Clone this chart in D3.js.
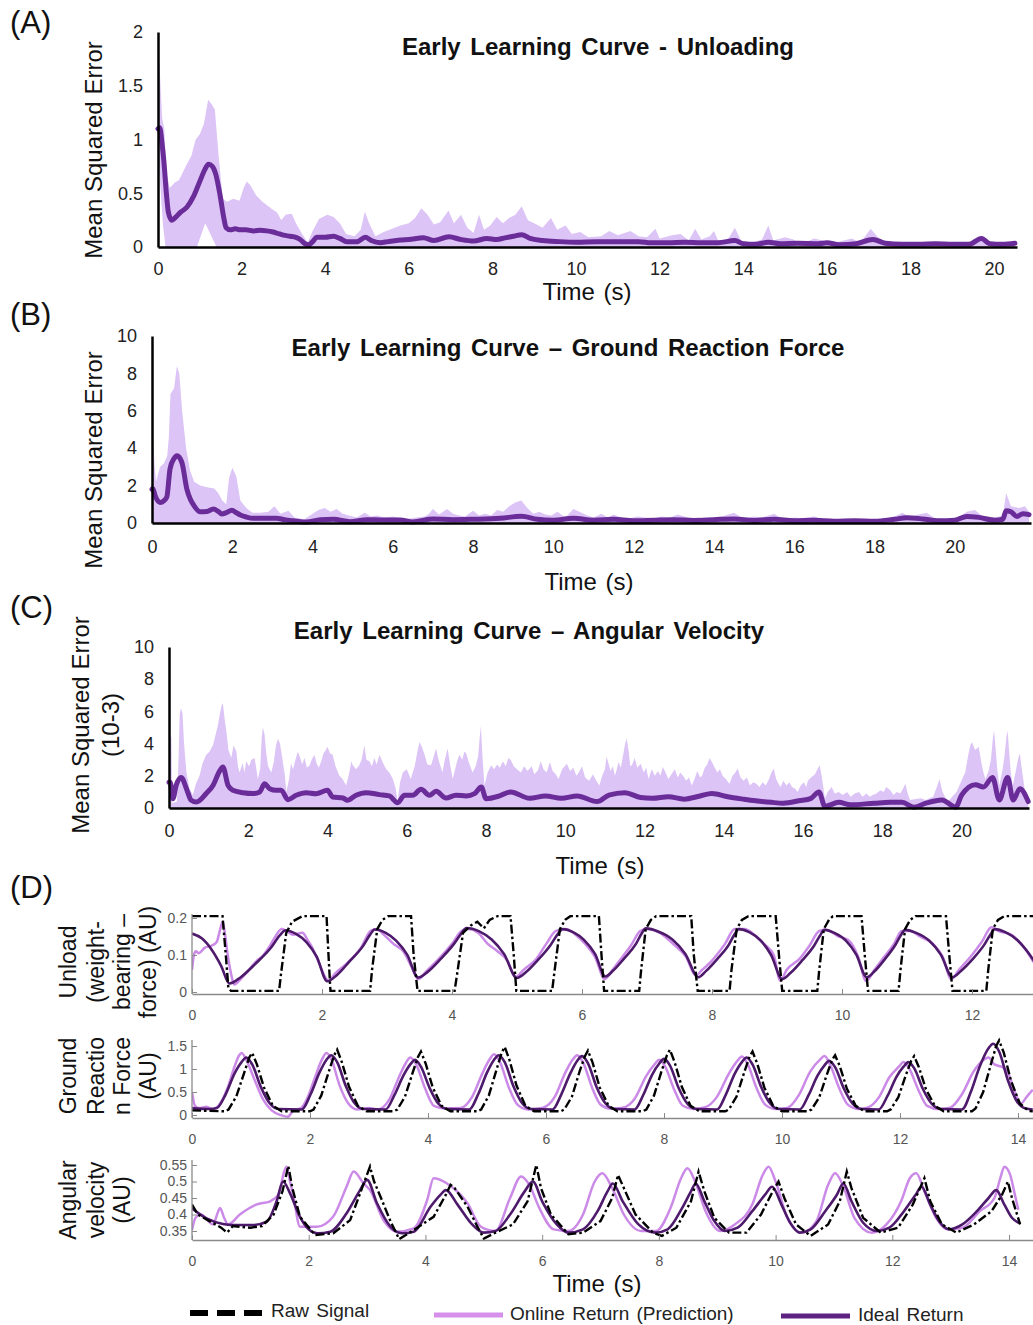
<!DOCTYPE html>
<html><head><meta charset="utf-8">
<script src="https://cdn.jsdelivr.net/npm/d3@7"></script>
<style>
body{margin:0;background:#fff}
svg{display:block}
text{font-family:"Liberation Sans",Arial,Helvetica,sans-serif}
</style>
</head><body>
<svg id="chart" width="1033" height="1325"></svg>
<script>
// ---------------- DATA ----------------
// Panel A : Unloading
const meanA = [[0,1.1],[0.04,1.11],[0.1,0.95],[0.14,0.8],[0.2,0.5],[0.25,0.32],[0.33,0.25],[0.43,0.28],[0.53,0.32],[0.69,0.37],[0.85,0.47],[1.01,0.62],[1.12,0.72],[1.21,0.77],[1.3,0.75],[1.38,0.68],[1.49,0.47],[1.57,0.28],[1.63,0.18],[1.73,0.16],[1.85,0.17],[1.97,0.16],[2.1,0.16],[2.29,0.15],[2.45,0.155],[2.6,0.15],[2.75,0.14],[2.84,0.13],[3.0,0.11],[3.16,0.1],[3.3,0.09],[3.4,0.07],[3.52,0.03],[3.6,0.02],[3.7,0.05],[3.8,0.09],[4.0,0.09],[4.2,0.1],[4.35,0.08],[4.52,0.05],[4.76,0.05],[4.96,0.09],[5.1,0.06],[5.32,0.04],[5.5,0.05],[5.8,0.065],[6.0,0.07],[6.35,0.085],[6.6,0.06],[6.96,0.095],[7.24,0.07],[7.55,0.055],[7.87,0.08],[8.1,0.07],[8.3,0.085],[8.5,0.1],[8.7,0.115],[8.9,0.08],[9.2,0.06],[9.6,0.05],[10,0.045],[10.5,0.05],[11,0.05],[11.5,0.05],[11.8,0.04],[12.2,0.04],[12.6,0.045],[13.0,0.04],[13.4,0.04],[13.8,0.06],[14.0,0.03],[14.3,0.025],[14.6,0.045],[14.9,0.03],[15.3,0.035],[15.8,0.03],[16.0,0.04],[16.3,0.02],[16.7,0.03],[17.1,0.07],[17.4,0.035],[17.8,0.025],[18.2,0.025],[18.6,0.03],[19.0,0.025],[19.4,0.025],[19.7,0.08],[19.9,0.03],[20.2,0.025],[20.5,0.035]];
const upperA = [[0,1.0],[0.02,1.85],[0.06,1.5],[0.1,1.2],[0.15,1.1],[0.2,0.7],[0.28,0.55],[0.4,0.6],[0.5,0.62],[0.6,0.7],[0.7,0.78],[0.8,0.85],[0.9,1.0],[1.0,1.05],[1.1,1.15],[1.2,1.37],[1.28,1.33],[1.36,1.28],[1.45,0.85],[1.55,0.45],[1.65,0.42],[1.8,0.45],[1.95,0.43],[2.05,0.55],[2.12,0.61],[2.2,0.58],[2.35,0.48],[2.5,0.42],[2.7,0.36],[2.85,0.32],[2.95,0.25],[3.05,0.3],[3.2,0.31],[3.3,0.22],[3.45,0.12],[3.58,0.04],[3.7,0.15],[3.85,0.26],[4.05,0.3],[4.2,0.28],[4.35,0.22],[4.5,0.12],[4.7,0.1],[4.85,0.16],[4.95,0.33],[5.05,0.22],[5.2,0.1],[5.4,0.14],[5.6,0.17],[5.8,0.2],[6.0,0.22],[6.15,0.27],[6.3,0.36],[6.45,0.3],[6.6,0.21],[6.75,0.23],[6.95,0.34],[7.08,0.22],[7.25,0.3],[7.4,0.18],[7.55,0.13],[7.68,0.3],[7.8,0.16],[7.95,0.2],[8.1,0.28],[8.25,0.22],[8.4,0.27],[8.55,0.3],[8.7,0.38],[8.85,0.25],[9.0,0.22],[9.2,0.18],[9.4,0.27],[9.55,0.16],[9.75,0.2],[9.9,0.12],[10.1,0.14],[10.3,0.09],[10.6,0.1],[10.8,0.15],[11.0,0.11],[11.3,0.15],[11.5,0.1],[11.7,0.09],[11.9,0.17],[12.0,0.08],[12.3,0.11],[12.5,0.12],[12.7,0.06],[12.85,0.17],[13.0,0.07],[13.2,0.1],[13.3,0.15],[13.4,0.06],[13.6,0.05],[13.8,0.18],[13.95,0.06],[14.2,0.04],[14.45,0.07],[14.6,0.2],[14.72,0.06],[15.0,0.09],[15.2,0.07],[15.4,0.03],[15.7,0.08],[15.9,0.06],[16.1,0.03],[16.4,0.06],[16.6,0.08],[16.8,0.04],[17.05,0.17],[17.2,0.1],[17.4,0.04],[17.7,0.03],[18.0,0.04],[18.5,0.03],[19.0,0.03],[19.5,0.04],[19.7,0.1],[19.85,0.04],[20.2,0.03],[20.5,0.04]];
const lowerA = [[0,0.9],[0.05,0.6],[0.12,0.2],[0.18,0],[0.93,0],[1.13,0.22],[1.4,0],[20.5,0]];

// Panel B : Ground Reaction Force
const meanB = [[0,1.8],[0.02,1.85],[0.08,1.45],[0.2,1.1],[0.3,1.2],[0.37,1.4],[0.45,2.9],[0.55,3.45],[0.62,3.6],[0.7,3.45],[0.75,3.2],[0.87,1.8],[0.95,1.3],[1.04,0.95],[1.2,0.6],[1.37,0.62],[1.53,0.75],[1.65,0.62],[1.74,0.48],[1.85,0.55],[1.99,0.68],[2.1,0.55],[2.2,0.43],[2.35,0.32],[2.53,0.25],[2.86,0.25],[3.1,0.26],[3.3,0.18],[3.52,0.12],[3.85,0.05],[4.19,0.18],[4.52,0.2],[4.93,0.07],[5.35,0.18],[5.76,0.16],[6.18,0.16],[6.5,0.06],[7.0,0.21],[7.5,0.18],[8.0,0.2],[8.67,0.25],[9.2,0.36],[9.6,0.2],[10.0,0.15],[10.5,0.25],[11.0,0.15],[11.5,0.2],[12.0,0.12],[12.5,0.15],[13.0,0.18],[13.5,0.14],[14.0,0.18],[14.5,0.22],[15.0,0.14],[15.5,0.2],[16.0,0.12],[16.5,0.15],[17.0,0.1],[17.5,0.12],[18.0,0.1],[18.5,0.2],[18.8,0.28],[19.2,0.22],[19.6,0.12],[20.0,0.15],[20.3,0.35],[20.6,0.3],[21.0,0.15],[21.2,0.2],[21.28,0.66],[21.4,0.6],[21.55,0.35],[21.7,0.5],[21.85,0.45]];
const upperB = [[0,4.9],[0.03,4.5],[0.06,3.2],[0.1,2.2],[0.2,3.0],[0.3,3.2],[0.38,3.6],[0.42,4.6],[0.46,6.9],[0.55,7.2],[0.62,8.4],[0.68,8.0],[0.75,6.0],[0.85,4.0],[0.95,2.8],[1.05,2.2],[1.2,2.0],[1.4,1.9],[1.55,1.85],[1.65,1.6],[1.75,1.2],[1.85,1.0],[1.92,2.4],[2.0,2.95],[2.1,2.5],[2.2,1.2],[2.35,0.8],[2.5,0.55],[2.7,0.55],[2.9,0.6],[3.05,0.9],[3.2,0.5],[3.4,0.65],[3.55,0.3],[3.8,0.2],[4.0,0.5],[4.15,0.7],[4.3,0.8],[4.45,0.6],[4.6,0.75],[4.75,0.5],[4.9,0.4],[5.1,0.3],[5.3,0.55],[5.45,0.35],[5.6,0.4],[5.8,0.3],[6.0,0.35],[6.3,0.2],[6.6,0.3],[6.8,0.35],[6.9,0.5],[7.0,0.75],[7.15,0.45],[7.35,0.75],[7.5,0.5],[7.65,0.4],[7.8,0.35],[8.0,0.65],[8.15,0.4],[8.3,0.5],[8.45,0.4],[8.6,0.7],[8.75,0.6],[8.9,0.9],[9.05,1.1],[9.2,1.2],[9.35,0.8],[9.5,0.5],[9.65,0.6],[9.8,0.45],[9.95,0.4],[10.1,0.6],[10.3,0.3],[10.5,0.75],[10.7,0.55],[10.85,0.4],[11.0,0.3],[11.2,0.5],[11.35,0.3],[11.5,0.45],[11.8,0.2],[12.1,0.35],[12.3,0.3],[12.5,0.25],[12.7,0.35],[12.9,0.3],[13.1,0.45],[13.4,0.25],[13.6,0.3],[13.8,0.2],[14.0,0.3],[14.2,0.35],[14.5,0.55],[14.65,0.35],[14.8,0.25],[15.0,0.35],[15.2,0.3],[15.5,0.5],[15.65,0.3],[15.8,0.2],[16.0,0.3],[16.2,0.25],[16.5,0.35],[16.8,0.15],[17.2,0.15],[17.5,0.2],[17.8,0.15],[18.2,0.2],[18.5,0.35],[18.7,0.55],[18.9,0.3],[19.1,0.45],[19.3,0.55],[19.5,0.25],[19.8,0.2],[20.1,0.3],[20.3,0.6],[20.5,0.7],[20.7,0.35],[21.0,0.3],[21.2,0.4],[21.28,1.6],[21.4,0.9],[21.6,0.8],[21.75,0.9],[21.85,0.6]];
const lowerB = [[0,0],[21.85,0]];

// Panel C : Angular Velocity (x10^-3)
const meanC = [[0,1.6],[0.03,1.6],[0.1,0.58],[0.18,1.4],[0.31,1.9],[0.44,1.2],[0.56,0.48],[0.69,0.37],[0.94,0.9],[1.11,1.4],[1.28,2.3],[1.36,2.55],[1.49,1.4],[1.61,1.1],[1.87,0.95],[2.12,0.9],[2.29,1.0],[2.41,1.5],[2.54,1.2],[2.71,1.1],[2.83,1.1],[3.0,0.52],[3.21,0.79],[3.46,0.95],[3.71,0.89],[4.0,1.1],[4.13,0.68],[4.39,0.62],[4.5,0.48],[4.72,0.79],[4.97,0.95],[5.31,0.83],[5.56,0.75],[5.77,0.33],[5.94,0.79],[6.15,0.79],[6.36,1.16],[6.57,0.79],[6.74,1.04],[6.99,0.62],[7.24,0.79],[7.5,0.75],[7.71,0.89],[7.88,1.3],[8.0,0.58],[8.34,0.75],[8.62,1.0],[9.1,0.6],[9.5,0.75],[9.9,0.6],[10.3,0.75],[10.8,0.4],[11.1,0.8],[11.5,0.95],[11.9,0.65],[12.2,0.6],[12.6,0.7],[13.0,0.55],[13.4,0.75],[13.7,0.9],[14.1,0.7],[14.5,0.55],[14.8,0.45],[15.2,0.35],[15.5,0.3],[15.9,0.45],[16.2,0.6],[16.4,1.0],[16.55,0.1],[16.9,0.35],[17.2,0.2],[17.8,0.3],[18.2,0.35],[18.5,0.35],[18.8,0.05],[19.1,0.3],[19.5,0.5],[19.85,0.05],[20.0,0.8],[20.35,1.45],[20.55,1.3],[20.78,1.9],[20.95,0.5],[21.16,1.9],[21.3,0.5],[21.47,1.2],[21.68,0.4]];
const upperC = [[0,2.5],[0.02,4.5],[0.06,4.4],[0.08,0.3],[0.2,0.4],[0.24,3.0],[0.27,5.8],[0.3,6.2],[0.34,5.9],[0.38,4.0],[0.44,2.2],[0.52,1.2],[0.6,0.8],[0.68,1.5],[0.77,2.0],[0.85,2.8],[0.94,3.3],[1.02,3.5],[1.11,3.9],[1.18,4.6],[1.24,5.2],[1.28,5.8],[1.33,6.4],[1.36,6.5],[1.4,5.6],[1.45,4.7],[1.5,3.6],[1.57,3.1],[1.63,3.9],[1.7,3.5],[1.74,2.6],[1.78,2.2],[1.86,2.8],[1.9,2.2],[1.95,2.9],[2.02,2.6],[2.08,3.0],[2.16,3.1],[2.2,2.5],[2.24,1.8],[2.3,2.4],[2.34,4.4],[2.37,5.0],[2.41,4.6],[2.45,3.5],[2.5,2.6],[2.58,2.2],[2.64,2.8],[2.7,3.9],[2.75,4.3],[2.8,4.0],[2.87,2.9],[2.92,2.1],[2.96,1.0],[3.03,1.8],[3.08,2.8],[3.13,2.4],[3.19,3.0],[3.25,3.5],[3.3,3.2],[3.36,2.7],[3.42,3.1],[3.48,2.5],[3.55,2.65],[3.6,3.0],[3.67,3.3],[3.72,2.8],[3.78,2.5],[3.84,2.9],[3.9,3.4],[3.96,3.6],[4.0,3.8],[4.06,3.4],[4.13,3.3],[4.2,2.6],[4.3,2.0],[4.38,1.8],[4.47,1.4],[4.55,2.2],[4.6,2.9],[4.64,2.65],[4.72,2.4],[4.8,2.65],[4.86,3.0],[4.93,3.9],[4.98,3.0],[5.06,2.9],[5.12,2.6],[5.18,3.1],[5.24,2.7],[5.31,3.3],[5.38,2.9],[5.48,2.4],[5.56,2.2],[5.65,1.8],[5.72,1.2],[5.77,0.4],[5.83,1.6],[5.9,2.2],[6.0,2.4],[6.1,1.8],[6.2,2.6],[6.26,3.4],[6.32,4.1],[6.38,3.8],[6.45,3.3],[6.52,2.7],[6.61,2.65],[6.68,3.2],[6.74,3.7],[6.8,3.0],[6.9,2.2],[6.96,3.0],[7.03,3.7],[7.1,2.6],[7.16,1.8],[7.22,2.4],[7.28,3.0],[7.33,3.3],[7.4,3.0],[7.45,3.5],[7.5,3.4],[7.57,2.8],[7.66,2.2],[7.74,2.6],[7.8,3.2],[7.84,4.4],[7.87,5.1],[7.91,3.2],[7.96,1.4],[8.04,2.2],[8.13,2.65],[8.2,2.4],[8.28,2.7],[8.35,2.5],[8.42,2.9],[8.5,2.6],[8.56,3.1],[8.62,3.0],[8.7,2.6],[8.78,2.4],[8.88,2.2],[8.96,2.6],[9.05,2.3],[9.15,2.6],[9.22,2.1],[9.31,2.35],[9.38,2.9],[9.45,2.4],[9.53,2.2],[9.61,2.85],[9.68,2.3],[9.76,2.1],[9.83,1.8],[9.92,2.4],[10.04,2.75],[10.12,2.3],[10.2,2.5],[10.28,2.0],[10.34,2.2],[10.42,2.6],[10.5,1.9],[10.6,1.7],[10.7,2.1],[10.78,1.7],[10.86,1.4],[10.93,2.0],[11.0,2.4],[11.04,3.2],[11.08,2.85],[11.14,2.3],[11.2,2.6],[11.25,2.0],[11.3,2.4],[11.34,2.85],[11.4,2.5],[11.46,3.3],[11.51,4.0],[11.55,4.3],[11.6,3.5],[11.64,2.6],[11.68,2.65],[11.75,3.1],[11.82,2.5],[11.9,2.75],[11.98,2.2],[12.04,2.5],[12.1,1.8],[12.18,2.4],[12.26,2.0],[12.34,2.3],[12.4,2.0],[12.46,2.55],[12.53,2.2],[12.6,1.8],[12.68,2.1],[12.76,2.4],[12.84,1.9],[12.9,2.2],[12.97,2.0],[13.05,1.7],[13.12,1.9],[13.19,1.4],[13.26,1.8],[13.33,2.3],[13.4,1.9],[13.45,2.0],[13.52,2.5],[13.58,2.7],[13.64,3.1],[13.7,2.85],[13.77,2.5],[13.84,2.2],[13.9,2.4],[13.97,2.0],[14.05,1.8],[14.14,1.5],[14.22,2.0],[14.29,2.2],[14.35,2.45],[14.42,1.9],[14.5,1.7],[14.58,1.9],[14.66,1.4],[14.74,1.6],[14.82,1.5],[14.9,1.3],[14.98,1.6],[15.06,1.4],[15.14,1.8],[15.2,2.2],[15.26,2.45],[15.32,1.8],[15.38,1.5],[15.43,1.3],[15.5,1.7],[15.58,1.4],[15.65,1.6],[15.72,1.3],[15.8,1.2],[15.86,1.0],[15.94,1.4],[16.02,1.6],[16.08,1.3],[16.12,1.7],[16.2,1.9],[16.3,2.1],[16.36,2.4],[16.42,2.65],[16.48,1.8],[16.55,0.6],[16.62,1.0],[16.72,1.3],[16.8,0.9],[16.9,1.0],[17.0,0.8],[17.11,1.0],[17.2,0.7],[17.3,0.9],[17.41,1.0],[17.5,0.7],[17.6,0.9],[17.68,0.7],[17.76,0.8],[17.85,0.9],[17.95,1.1],[18.03,1.0],[18.1,1.3],[18.2,1.1],[18.28,0.8],[18.36,1.0],[18.45,0.9],[18.52,1.2],[18.58,1.5],[18.64,0.9],[18.7,0.5],[18.8,0.55],[18.97,0.6],[19.1,0.5],[19.18,0.6],[19.28,0.7],[19.36,1.2],[19.44,1.8],[19.52,1.0],[19.6,0.6],[19.66,0.4],[19.76,0.7],[19.87,1.0],[19.98,1.6],[20.05,2.0],[20.09,2.2],[20.16,3.2],[20.22,3.9],[20.26,4.1],[20.34,3.6],[20.43,3.8],[20.5,2.8],[20.55,2.2],[20.6,1.8],[20.68,2.3],[20.74,3.0],[20.79,4.4],[20.82,4.8],[20.86,3.6],[20.9,2.4],[20.95,1.4],[21.02,2.2],[21.08,3.2],[21.13,4.4],[21.16,4.8],[21.2,3.5],[21.24,2.2],[21.29,1.4],[21.36,2.2],[21.42,3.0],[21.47,3.4],[21.52,2.4],[21.6,1.0],[21.68,0.6]];
const lowerC = [[0,0],[21.68,0]];

const mseTicksX = [0,2,4,6,8,10,12,14,16,18,20];
const mseTicksA = [0,0.5,1,1.5,2];
const mseTicksBC = [0,2,4,6,8,10];

// Panel D1 : Unload (weight-bearing force)
const d1Raw = [[0,0.205],[0.47,0.205],[0.52,0.1],[0.56,0.01],[0.6,0.003],[1.34,0.003],[1.37,0.05],[1.45,0.16],[1.54,0.19],[1.7,0.205],[2.07,0.205],[2.1,0.1],[2.13,0.003],[2.74,0.003],[2.77,0.06],[2.85,0.17],[2.93,0.195],[3.02,0.205],[3.37,0.205],[3.41,0.1],[3.47,0.003],[4.04,0.003],[4.08,0.05],[4.17,0.16],[4.29,0.18],[4.39,0.19],[4.49,0.172],[4.58,0.195],[4.7,0.205],[4.9,0.205],[4.95,0.1],[4.99,0.003],[5.54,0.003],[5.58,0.06],[5.66,0.17],[5.74,0.195],[5.82,0.205],[6.26,0.205],[6.3,0.1],[6.34,0.003],[6.88,0.003],[6.91,0.06],[6.98,0.17],[7.06,0.195],[7.14,0.205],[7.68,0.205],[7.72,0.1],[7.78,0.003],[8.27,0.003],[8.3,0.06],[8.38,0.17],[8.46,0.195],[8.56,0.205],[8.98,0.205],[9.03,0.1],[9.08,0.003],[9.62,0.003],[9.65,0.06],[9.72,0.17],[9.8,0.195],[9.86,0.205],[10.3,0.205],[10.35,0.1],[10.4,0.003],[10.87,0.003],[10.9,0.06],[10.97,0.17],[11.05,0.195],[11.13,0.205],[11.6,0.205],[11.65,0.1],[11.7,0.003],[12.22,0.003],[12.25,0.06],[12.32,0.17],[12.4,0.195],[12.5,0.205],[12.95,0.205]];
const d1Online = [[0,0.06],[0.03,0.1],[0.06,0.11],[0.1,0.105],[0.2,0.12],[0.3,0.125],[0.38,0.135],[0.42,0.16],[0.45,0.18],[0.47,0.19],[0.5,0.165],[0.55,0.1],[0.6,0.05],[0.65,0.02],[0.75,0.035],[0.9,0.065],[1.0,0.085],[1.1,0.1],[1.2,0.125],[1.3,0.155],[1.38,0.17],[1.45,0.165],[1.55,0.155],[1.7,0.16],[1.78,0.14],[1.85,0.12],[1.95,0.08],[2.05,0.04],[2.1,0.03],[2.2,0.05],[2.4,0.08],[2.6,0.12],[2.75,0.165],[2.85,0.17],[2.95,0.155],[3.1,0.13],[3.25,0.11],[3.4,0.06],[3.48,0.035],[3.6,0.055],[3.8,0.09],[4.0,0.13],[4.15,0.165],[4.25,0.17],[4.4,0.16],[4.55,0.13],[4.7,0.11],[4.85,0.085],[4.98,0.04],[5.1,0.06],[5.3,0.09],[5.45,0.13],[5.6,0.165],[5.75,0.17],[5.9,0.155],[6.05,0.13],[6.2,0.095],[6.35,0.035],[6.45,0.055],[6.6,0.09],[6.75,0.125],[6.9,0.165],[7.0,0.17],[7.2,0.16],[7.4,0.13],[7.6,0.095],[7.75,0.045],[7.85,0.06],[8.0,0.085],[8.2,0.13],[8.35,0.17],[8.5,0.17],[8.65,0.155],[8.8,0.13],[8.95,0.1],[9.05,0.03],[9.15,0.06],[9.35,0.09],[9.5,0.125],[9.65,0.165],[9.75,0.168],[9.95,0.15],[10.1,0.14],[10.25,0.095],[10.37,0.03],[10.5,0.06],[10.65,0.095],[10.8,0.13],[10.92,0.165],[11.05,0.165],[11.2,0.15],[11.4,0.13],[11.55,0.095],[11.68,0.035],[11.8,0.06],[12.0,0.1],[12.15,0.135],[12.3,0.175],[12.4,0.165],[12.6,0.155],[12.8,0.12],[12.95,0.08]];
const d1Ideal = [[0,0.158],[0.15,0.145],[0.3,0.115],[0.45,0.07],[0.575,0.023],[0.75,0.04],[0.98,0.077],[1.22,0.121],[1.35,0.153],[1.44,0.167],[1.6,0.157],[1.76,0.135],[1.92,0.095],[2.08,0.029],[2.23,0.046],[2.42,0.082],[2.63,0.124],[2.74,0.155],[2.81,0.169],[2.98,0.16],[3.14,0.139],[3.31,0.101],[3.48,0.039],[3.63,0.055],[3.83,0.09],[4.03,0.13],[4.15,0.16],[4.22,0.173],[4.42,0.164],[4.61,0.142],[4.8,0.103],[5.0,0.038],[5.14,0.054],[5.33,0.088],[5.52,0.128],[5.63,0.157],[5.7,0.17],[5.87,0.161],[6.03,0.141],[6.2,0.103],[6.36,0.042],[6.48,0.058],[6.65,0.091],[6.83,0.13],[6.92,0.159],[6.98,0.172],[7.18,0.163],[7.39,0.142],[7.59,0.103],[7.79,0.04],[7.91,0.057],[8.08,0.089],[8.26,0.128],[8.35,0.157],[8.41,0.17],[8.58,0.161],[8.75,0.139],[8.91,0.1],[9.08,0.035],[9.21,0.052],[9.39,0.086],[9.57,0.125],[9.67,0.155],[9.73,0.168],[9.89,0.159],[10.06,0.139],[10.22,0.101],[10.38,0.04],[10.5,0.056],[10.66,0.089],[10.82,0.127],[10.91,0.155],[10.97,0.168],[11.15,0.159],[11.34,0.139],[11.52,0.101],[11.7,0.04],[11.83,0.057],[12.01,0.089],[12.19,0.128],[12.29,0.157],[12.35,0.17],[12.52,0.161],[12.7,0.14],[12.85,0.11],[12.95,0.085]];

// Panel D2 : Ground Reaction Force
const d2Raw = [[0,0.1],[0.55,0.08],[0.62,0.12],[0.75,0.4],[0.88,0.9],[0.97,1.25],[1.02,1.35],[1.1,1.1],[1.22,0.6],[1.37,0.2],[1.52,0.08],[2.0,0.08],[2.06,0.12],[2.19,0.42],[2.32,0.95],[2.41,1.3],[2.46,1.42],[2.54,1.15],[2.66,0.62],[2.81,0.2],[2.96,0.08],[3.42,0.08],[3.48,0.12],[3.61,0.4],[3.74,0.92],[3.83,1.26],[3.88,1.38],[3.96,1.12],[4.08,0.6],[4.23,0.2],[4.38,0.08],[4.84,0.08],[4.9,0.12],[5.03,0.42],[5.16,0.98],[5.25,1.36],[5.3,1.48],[5.38,1.2],[5.5,0.64],[5.65,0.2],[5.8,0.08],[6.25,0.08],[6.31,0.12],[6.44,0.4],[6.57,0.95],[6.66,1.28],[6.71,1.4],[6.79,1.14],[6.91,0.6],[7.06,0.2],[7.21,0.08],[7.64,0.08],[7.7,0.12],[7.83,0.42],[7.96,0.96],[8.05,1.3],[8.1,1.42],[8.18,1.15],[8.3,0.62],[8.45,0.2],[8.6,0.08],[9.04,0.08],[9.1,0.12],[9.23,0.4],[9.36,0.93],[9.45,1.27],[9.5,1.38],[9.58,1.12],[9.7,0.6],[9.85,0.2],[10.0,0.08],[10.44,0.08],[10.5,0.12],[10.63,0.38],[10.76,0.88],[10.85,1.2],[10.9,1.3],[10.98,1.06],[11.1,0.57],[11.25,0.2],[11.4,0.08],[11.78,0.08],[11.84,0.12],[11.97,0.38],[12.1,0.87],[12.19,1.18],[12.24,1.28],[12.32,1.04],[12.44,0.56],[12.59,0.2],[12.74,0.08],[13.22,0.08],[13.28,0.14],[13.41,0.5],[13.54,1.1],[13.63,1.5],[13.68,1.62],[13.76,1.35],[13.88,0.75],[14.03,0.25],[14.18,0.09],[14.25,0.08]];
const d2Online = [[0,0.5],[0.05,0.2],[0.12,0.15],[0.25,0.18],[0.35,0.12],[0.5,0.3],[0.62,0.65],[0.72,1.05],[0.8,1.3],[0.84,1.35],[0.92,1.2],[1.05,0.8],[1.2,0.35],[1.35,0.1],[1.5,0.0],[1.62,-0.04],[1.72,0.1],[1.85,0.15],[1.95,0.35],[2.08,0.8],[2.2,1.2],[2.28,1.35],[2.36,1.22],[2.5,0.65],[2.65,0.25],[2.8,0.12],[3.0,0.15],[3.15,0.12],[3.35,0.35],[3.5,0.8],[3.62,1.12],[3.7,1.25],[3.8,1.1],[3.95,0.58],[4.1,0.2],[4.3,0.14],[4.55,0.15],[4.75,0.4],[4.92,0.9],[5.04,1.2],[5.12,1.32],[5.22,1.15],[5.37,0.6],[5.52,0.22],[5.7,0.12],[5.95,0.16],[6.15,0.4],[6.32,0.9],[6.45,1.2],[6.53,1.3],[6.63,1.14],[6.78,0.6],[6.93,0.22],[7.1,0.14],[7.3,0.16],[7.5,0.35],[7.7,0.85],[7.84,1.1],[7.92,1.2],[8.02,1.05],[8.17,0.56],[8.32,0.2],[8.5,0.13],[8.7,0.17],[8.9,0.4],[9.1,0.9],[9.24,1.17],[9.32,1.27],[9.42,1.1],[9.57,0.58],[9.72,0.22],[9.9,0.13],[10.1,0.16],[10.28,0.42],[10.48,0.95],[10.64,1.2],[10.72,1.28],[10.82,1.08],[10.97,0.58],[11.12,0.22],[11.3,0.13],[11.45,0.16],[11.65,0.4],[11.82,0.82],[11.98,1.05],[12.06,1.15],[12.16,1.0],[12.31,0.55],[12.46,0.2],[12.65,0.13],[12.85,0.16],[13.05,0.45],[13.25,0.95],[13.42,1.2],[13.5,1.25],[13.6,1.1],[13.72,1.05],[13.82,0.95],[13.92,0.6],[14.05,0.25],[14.15,0.4],[14.25,0.55]];
const d2Ideal = [[0,0.15],[0.3,0.13],[0.42,0.15],[0.57,0.45],[0.72,0.9],[0.84,1.15],[0.92,1.25],[1.02,1.1],[1.17,0.6],[1.32,0.25],[1.47,0.13],[1.86,0.12],[2.01,0.45],[2.16,0.92],[2.28,1.2],[2.36,1.3],[2.46,1.15],[2.61,0.62],[2.76,0.25],[2.91,0.13],[3.28,0.12],[3.43,0.43],[3.58,0.85],[3.7,1.1],[3.78,1.2],[3.88,1.05],[4.03,0.58],[4.18,0.24],[4.33,0.13],[4.7,0.12],[4.85,0.45],[5.0,0.92],[5.12,1.2],[5.2,1.3],[5.3,1.15],[5.45,0.62],[5.6,0.25],[5.75,0.13],[6.11,0.12],[6.26,0.45],[6.41,0.9],[6.53,1.18],[6.61,1.28],[6.71,1.13],[6.86,0.6],[7.01,0.25],[7.16,0.13],[7.5,0.12],[7.65,0.44],[7.8,0.88],[7.92,1.12],[8.0,1.22],[8.1,1.08],[8.25,0.58],[8.4,0.24],[8.55,0.13],[8.9,0.12],[9.05,0.45],[9.2,0.9],[9.32,1.15],[9.4,1.25],[9.5,1.1],[9.65,0.6],[9.8,0.25],[9.95,0.13],[10.3,0.12],[10.45,0.43],[10.6,0.85],[10.72,1.08],[10.8,1.18],[10.9,1.04],[11.05,0.57],[11.2,0.24],[11.35,0.13],[11.64,0.12],[11.79,0.42],[11.94,0.83],[12.06,1.05],[12.14,1.15],[12.24,1.02],[12.39,0.56],[12.54,0.24],[12.69,0.13],[13.05,0.12],[13.2,0.5],[13.35,1.05],[13.5,1.45],[13.58,1.55],[13.68,1.38],[13.83,0.75],[13.98,0.3],[14.13,0.14],[14.25,0.12]];

// Panel D3 : Angular velocity
const d3Raw = [[0,0.43],[0.1,0.4],[0.3,0.38],[0.5,0.36],[0.6,0.345],[0.7,0.365],[1.0,0.36],[1.2,0.365],[1.4,0.4],[1.55,0.47],[1.65,0.547],[1.72,0.48],[1.85,0.393],[2.11,0.338],[2.42,0.343],[2.71,0.383],[2.88,0.464],[3.05,0.545],[3.12,0.5],[3.23,0.454],[3.4,0.38],[3.55,0.325],[3.8,0.353],[4.14,0.393],[4.35,0.46],[4.43,0.49],[4.5,0.48],[4.72,0.424],[4.9,0.36],[5.0,0.327],[5.2,0.345],[5.5,0.37],[5.75,0.44],[5.9,0.55],[5.98,0.48],[6.15,0.4],[6.45,0.34],[6.7,0.345],[7.0,0.38],[7.2,0.45],[7.3,0.52],[7.4,0.48],[7.6,0.4],[7.9,0.345],[8.05,0.335],[8.3,0.36],[8.55,0.44],[8.68,0.53],[8.78,0.47],[8.95,0.39],[9.2,0.345],[9.5,0.345],[9.75,0.4],[9.95,0.47],[10.05,0.5],[10.15,0.45],[10.35,0.37],[10.6,0.335],[10.9,0.37],[11.1,0.44],[11.22,0.53],[11.3,0.48],[11.5,0.39],[11.8,0.345],[12.1,0.36],[12.35,0.43],[12.55,0.51],[12.65,0.44],[12.85,0.37],[13.1,0.345],[13.4,0.37],[13.7,0.41],[13.88,0.46],[13.98,0.5],[14.05,0.45],[14.19,0.37]];
const d3Online = [[0,0.353],[0.06,0.39],[0.15,0.4],[0.36,0.37],[0.45,0.41],[0.48,0.42],[0.55,0.39],[0.62,0.37],[0.82,0.4],[1.1,0.43],[1.34,0.44],[1.48,0.46],[1.58,0.53],[1.62,0.545],[1.68,0.5],[1.74,0.454],[1.85,0.363],[2.14,0.363],[2.42,0.394],[2.65,0.485],[2.77,0.53],[2.94,0.494],[3.05,0.474],[3.28,0.383],[3.51,0.348],[3.8,0.358],[4.03,0.444],[4.14,0.51],[4.37,0.494],[4.6,0.46],[4.72,0.434],[4.95,0.363],[5.2,0.35],[5.45,0.45],[5.64,0.515],[5.78,0.49],[5.95,0.42],[6.2,0.355],[6.45,0.35],[6.7,0.4],[6.9,0.5],[7.03,0.525],[7.2,0.48],[7.4,0.4],[7.7,0.35],[7.95,0.35],[8.2,0.42],[8.38,0.51],[8.49,0.54],[8.62,0.5],[8.8,0.41],[9.05,0.35],[9.3,0.37],[9.6,0.43],[9.78,0.52],[9.88,0.545],[10.0,0.5],[10.2,0.39],[10.45,0.345],[10.7,0.38],[10.9,0.49],[11.02,0.525],[11.15,0.49],[11.35,0.39],[11.65,0.345],[11.9,0.37],[12.15,0.44],[12.3,0.51],[12.41,0.525],[12.55,0.47],[12.75,0.39],[12.95,0.355],[13.2,0.36],[13.5,0.41],[13.75,0.45],[13.85,0.51],[13.92,0.545],[14.02,0.52],[14.1,0.46],[14.16,0.414]];
const d3Ideal = [[0,0.419],[0.25,0.388],[0.53,0.371],[0.7,0.368],[1.05,0.368],[1.28,0.378],[1.45,0.44],[1.56,0.5],[1.68,0.464],[1.85,0.393],[2.0,0.355],[2.15,0.343],[2.37,0.348],[2.65,0.404],[2.88,0.474],[3.0,0.505],[3.17,0.434],[3.4,0.363],[3.6,0.343],[3.8,0.348],[4.09,0.424],[4.26,0.46],[4.35,0.474],[4.55,0.43],[4.8,0.37],[5.0,0.345],[5.2,0.35],[5.45,0.4],[5.7,0.47],[5.84,0.5],[6.0,0.44],[6.25,0.37],[6.45,0.345],[6.7,0.355],[6.95,0.41],[7.12,0.47],[7.21,0.494],[7.38,0.44],[7.65,0.37],[7.94,0.345],[8.15,0.355],[8.4,0.42],[8.55,0.47],[8.63,0.494],[8.78,0.44],[8.95,0.38],[9.13,0.35],[9.35,0.36],[9.6,0.41],[9.82,0.46],[9.94,0.484],[10.1,0.43],[10.25,0.375],[10.41,0.345],[10.6,0.355],[10.85,0.41],[11.05,0.46],[11.16,0.494],[11.3,0.44],[11.5,0.375],[11.74,0.35],[11.95,0.36],[12.2,0.41],[12.4,0.46],[12.5,0.484],[12.65,0.43],[12.8,0.38],[12.97,0.355],[13.2,0.37],[13.45,0.41],[13.65,0.45],[13.78,0.474],[13.92,0.43],[14.05,0.39],[14.19,0.373]];

const d1TicksY = [0,0.1,0.2];
const d2TicksY = [0,0.5,1,1.5];
const d3TicksY = [0.35,0.4,0.45,0.5,0.55];
const d1TicksX = [0,2,4,6,8,10,12];
const d23TicksX = [0,2,4,6,8,10,12,14];

const legendItems = ["Raw Signal","Online Return (Prediction)","Ideal Return"];

// ---------------- STYLE ----------------
const BAND = "#dcc4f6", MEAN = "#6a2c98";
const IDEAL = "#4e1a6c", ONLINE = "#cc8ae8", RAW = "#000";
const FONT = '"Liberation Sans",Arial,sans-serif';

const svg = d3.select("#chart");
svg.append("rect").attr("width",1033).attr("height",1325).attr("fill","#fff");

function rotLabel(g, lines, xs, cy, size, color) {
  lines.forEach((t,i) => {
    g.append("text").attr("transform",`translate(${xs[i]},${cy}) rotate(-90)`)
      .attr("text-anchor","middle").attr("dominant-baseline","central")
      .attr("font-size",size).attr("fill",color||"#111").text(t);
  });
}

function msePanel(o) {
  const g = svg.append("g");
  const x = d3.scaleLinear().domain([0,o.xmax]).range([o.x0, o.x1]);
  const y = d3.scaleLinear().domain([0,o.ymax]).range([o.yb, o.yt]);
  const line = d3.line().x(d=>x(d[0])).y(d=>y(d[1]));
  const poly = o.upper.concat(o.lower.slice().reverse());
  g.append("path").attr("d", line(poly)+"Z").attr("fill",BAND).attr("stroke","none");
  g.append("path").attr("d", line.curve(d3.curveMonotoneX)(o.mean)).attr("fill","none")
    .attr("stroke",MEAN).attr("stroke-width",5).attr("stroke-linejoin","round").attr("stroke-linecap","round");
  const ax = g.append("g").attr("transform",`translate(0,${o.yb})`)
    .call(d3.axisBottom(x).tickValues(mseTicksX).tickSize(0).tickSizeOuter(0).tickPadding(o.xpad).tickFormat(d3.format("d")));
  const ay = g.append("g").attr("transform",`translate(${o.x0},0)`)
    .call(d3.axisLeft(y).tickValues(o.yticks).tickSize(0).tickSizeOuter(0).tickPadding(15).tickFormat(d=>String(d)));
  [ax,ay].forEach(a=>{
    a.select(".domain").attr("stroke","#000").attr("stroke-width",2.5);
    a.selectAll("text").attr("font-size",18).attr("fill","#222").attr("font-family",FONT);
  });
  g.append("text").attr("x",o.titleX).attr("y",o.titleY).attr("text-anchor","middle")
    .attr("font-weight","bold").attr("font-size",24).attr("fill","#111").attr("word-spacing",3).text(o.title);
  g.append("text").attr("x",o.timeX).attr("y",o.timeY).attr("text-anchor","middle")
    .attr("font-size",24).attr("fill","#111").attr("word-spacing",2).text("Time (s)");
  rotLabel(g, o.ylab, o.ylabX, o.ylabY, 24);
  g.append("text").attr("x",10).attr("y",o.tagY).attr("font-size",31).attr("fill","#111").text(o.tag);
}

msePanel({tag:"(A)",tagY:33,xmax:20.55,x0:158,x1:1017,yb:247,yt:32,ymax:2,upper:upperA,lower:lowerA,mean:meanA,
  yticks:mseTicksA,xpad:15,title:"Early Learning Curve - Unloading",titleX:598,titleY:55,timeX:587,timeY:300,
  ylab:["Mean Squared Error"],ylabX:[93],ylabY:150});
msePanel({tag:"(B)",tagY:325,xmax:21.9,x0:152,x1:1031,yb:523,yt:336,ymax:10,upper:upperB,lower:lowerB,mean:meanB,
  yticks:mseTicksBC,xpad:17,title:"Early Learning Curve \u2013 Ground Reaction Force",titleX:568,titleY:356,timeX:589,timeY:590,
  ylab:["Mean Squared Error"],ylabX:[93],ylabY:460});
msePanel({tag:"(C)",tagY:618,xmax:21.7,x0:169,x1:1029,yb:808,yt:647,ymax:10,upper:upperC,lower:lowerC,mean:meanC,
  yticks:mseTicksBC,xpad:16,title:"Early Learning Curve \u2013 Angular Velocity",titleX:529,titleY:639,timeX:600,timeY:874,
  ylab:["Mean Squared Error","(10-3)"],ylabX:[80,110],ylabY:725});

// ---------------- Panel D ----------------
svg.append("text").attr("x",10).attr("y",898).attr("font-size",31).attr("fill","#111").text("(D)");
svg.append("defs").append("clipPath").attr("id","dclip").append("rect")
  .attr("x",192).attr("y",880).attr("width",841).attr("height",380);

function sigPanel(o) {
  const g = svg.append("g");
  const x = d3.scaleLinear().domain([0,o.xmax]).range([192, 192+o.pps*o.xmax]);
  const y = d3.scaleLinear().domain(o.ydom).range(o.yrange);
  const xAxisMax = (1033-192)/o.pps;
  const xa = d3.scaleLinear().domain([0,xAxisMax]).range([192,1033]);
  const line = d3.line().x(d=>x(d[0])).y(d=>y(d[1]));
  const pg = g.append("g").attr("clip-path","url(#dclip)");
  pg.append("path").attr("d",line.curve(d3.curveMonotoneX)(o.online)).attr("fill","none")
    .attr("stroke",ONLINE).attr("stroke-width",2.5).attr("stroke-linejoin","round");
  pg.append("path").attr("d",line.curve(d3.curveMonotoneX)(o.ideal)).attr("fill","none")
    .attr("stroke",IDEAL).attr("stroke-width",2.6).attr("stroke-linejoin","round");
  pg.append("path").attr("d",line.curve(d3.curveLinear)(o.raw)).attr("fill","none")
    .attr("stroke",RAW).attr("stroke-width",2.4).attr("stroke-dasharray","9,3,2.5,3");
  const ax = g.append("g").attr("transform",`translate(0,${o.axisY})`)
    .call(d3.axisBottom(xa).tickValues(o.xticks).tickSize(-5).tickSizeOuter(0).tickPadding(16).tickFormat(d3.format("d")));
  const ay = g.append("g").attr("transform",`translate(192,0)`)
    .call(d3.axisLeft(y).tickValues(o.yticks).tickSize(-5).tickSizeOuter(0).tickPadding(5).tickFormat(d=>String(d)));
  ay.select(".domain").attr("d",`M0,${o.axisY}V${o.ytop}`);
  [ax,ay].forEach(a=>{
    a.select(".domain").attr("stroke","#8a8a8a").attr("stroke-width",1.3);
    a.selectAll(".tick line").attr("stroke","#8a8a8a");
    a.selectAll("text").attr("font-size",14).attr("fill","#555").attr("font-family",FONT);
  });
  rotLabel(g, o.ylab, [68,96,122,148], o.ylabY, 23);
}

sigPanel({xmax:12.95,pps:65,ydom:[0,0.2],yrange:[992,918],axisY:994,ytop:914,raw:d1Raw,online:d1Online,ideal:d1Ideal,
  xticks:d1TicksX,yticks:d1TicksY,ylab:["Unload","(weight-","bearing \u2013","force) (AU)"],ylabY:962});
sigPanel({xmax:14.25,pps:59,ydom:[0,1.5],yrange:[1115,1046],axisY:1118,ytop:1040,raw:d2Raw,online:d2Online,ideal:d2Ideal,
  xticks:d23TicksX,yticks:d2TicksY,ylab:["Ground","Reactio","n Force","(AU)"],ylabY:1076});
sigPanel({xmax:14.19,pps:58.36,ydom:[0.35,0.55],yrange:[1231,1165],axisY:1240,ytop:1160,raw:d3Raw,online:d3Online,ideal:d3Ideal,
  xticks:d23TicksX,yticks:d3TicksY,ylab:["Angular","velocity","(AU)"],ylabY:1200});

svg.append("text").attr("x",597).attr("y",1292).attr("text-anchor","middle").attr("font-size",24)
  .attr("fill","#111").attr("word-spacing",2).text("Time (s)");

// Legend
const lg = svg.append("g");
lg.append("line").attr("x1",190).attr("x2",262).attr("y1",1313).attr("y2",1313)
  .attr("stroke","#000").attr("stroke-width",6).attr("stroke-dasharray","18,9");
lg.append("line").attr("x1",434).attr("x2",503).attr("y1",1315).attr("y2",1315)
  .attr("stroke","#d690ec").attr("stroke-width",5);
lg.append("line").attr("x1",781).attr("x2",850).attr("y1",1316).attr("y2",1316)
  .attr("stroke","#5e2282").attr("stroke-width",5);
[[271,1317],[510,1320],[858,1321]].forEach((p,i)=>{
  lg.append("text").attr("x",p[0]).attr("y",p[1]).attr("font-size",19).attr("fill","#222")
    .attr("word-spacing",2).text(legendItems[i]);
});
</script>
</body></html>
